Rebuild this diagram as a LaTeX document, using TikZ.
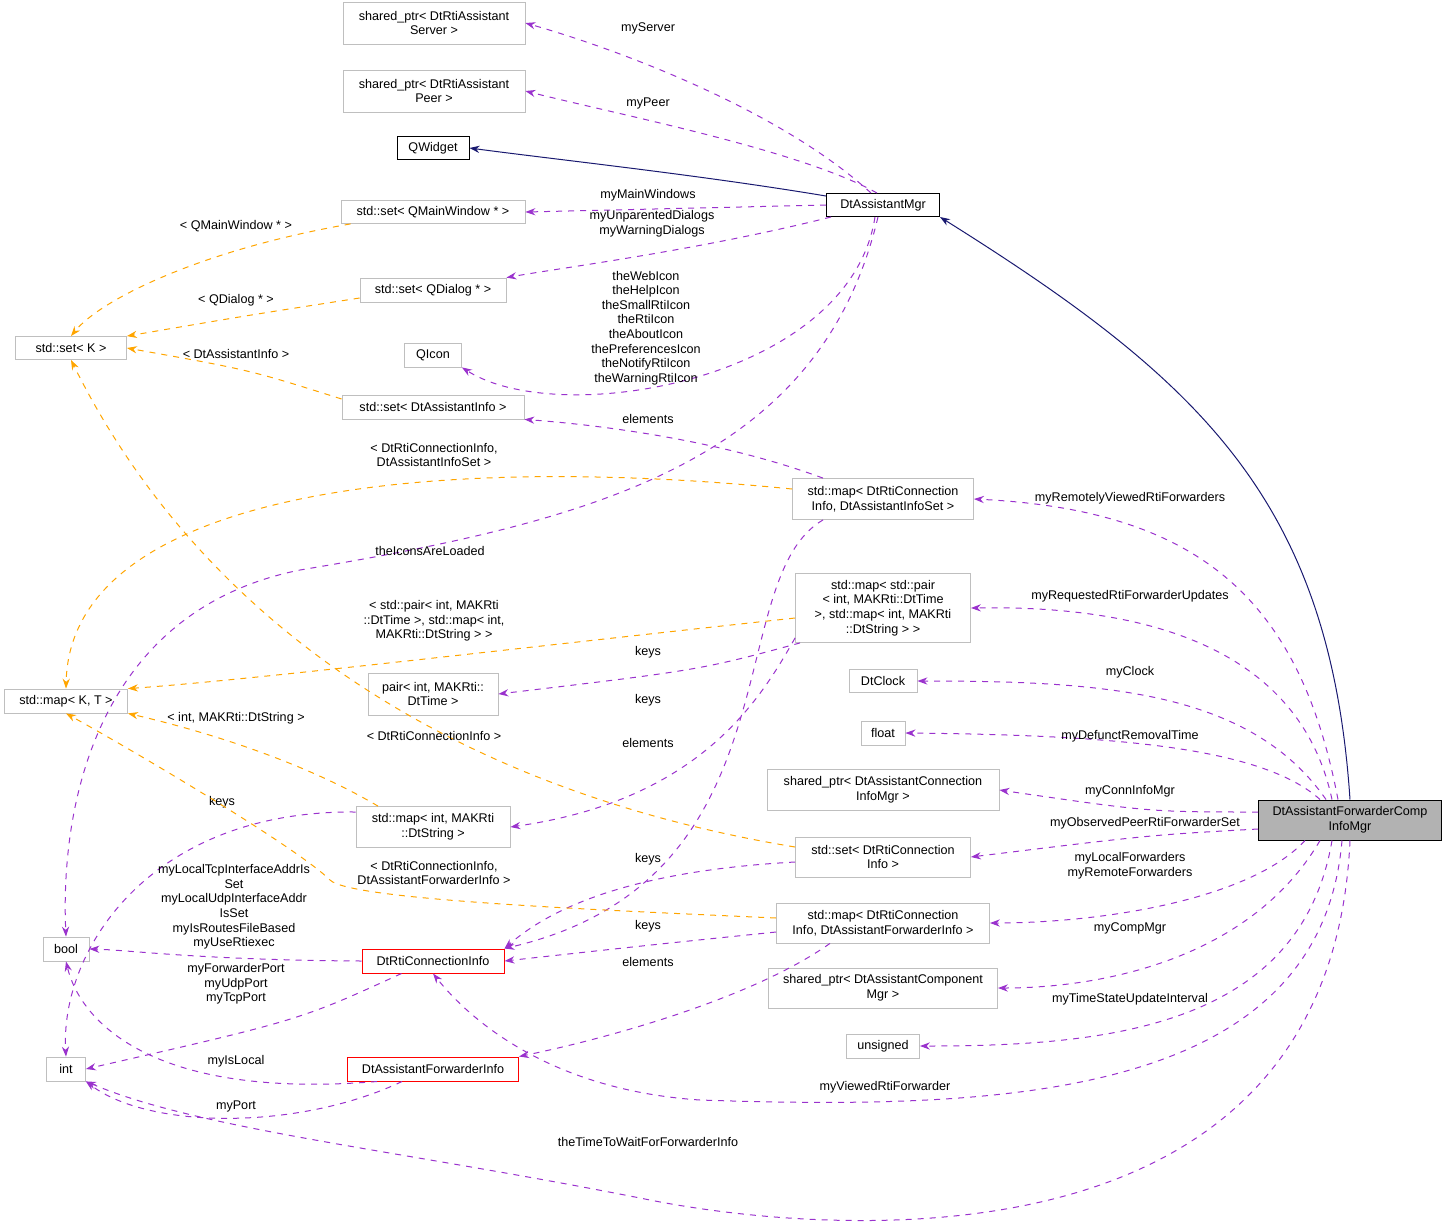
\documentclass[tikz,border=0pt]{standalone}
\usepackage{fontspec}
\setmainfont{Liberation Sans}
\usetikzlibrary{arrows.meta}
\definecolor{dpurple}{HTML}{9A32CD}
\definecolor{dorange}{HTML}{FFA500}
\definecolor{dnavy}{HTML}{191970}
\definecolor{dgray}{HTML}{BFBFBF}
\begin{document}
\begin{tikzpicture}[x=0.5pt,y=-0.5pt,
  every node/.style={font=\fontsize{6.3}{7.3}\selectfont, align=center, inner sep=0pt},
  box/.style={draw=dgray, line width=0.4pt, fill=white},
  bbox/.style={draw=black, line width=0.5pt, fill=white},
  rbox/.style={draw=red, line width=0.5pt, fill=white},
  dep/.style={dpurple, dashed, line width=0.5pt, -{Stealth[length=5pt,width=3.6pt]}},
  tpl/.style={dorange, dashed, line width=0.5pt, -{Stealth[length=5pt,width=3.6pt]}},
  inh/.style={dnavy, line width=0.5pt, -{Stealth[length=5pt,width=3.6pt]}},
  lbl/.style={}]
\useasboundingbox (0,0) rectangle (1448,1228);
\def\bx#1#2#3#4#5#6#7{\node[#1, minimum width=#5*0.5pt, minimum height=#6*0.5pt] (#2) at (#3,#4) {#7};}
\bx{box}{server}{434}{23}{182}{42}{shared\_ptr< DtRtiAssistant\\Server >}
\bx{box}{peer}{434}{91}{182}{42}{shared\_ptr< DtRtiAssistant\\Peer >}
\bx{bbox}{qw}{433}{148}{72}{23}{QWidget}
\bx{box}{setmw}{433}{212}{184}{23}{std::set< QMainWindow * >}
\bx{bbox}{mgr}{883}{205}{113}{23}{DtAssistantMgr}
\bx{box}{setqd}{433}{290}{146}{24}{std::set< QDialog * >}
\bx{box}{setk}{71}{348}{111}{23}{std::set< K >}
\bx{box}{qicon}{433}{355}{57}{24}{QIcon}
\bx{box}{setai}{433}{407}{182}{24}{std::set< DtAssistantInfo >}
\bx{box}{mapci}{883}{499}{181}{41}{std::map< DtRtiConnection\\Info, DtAssistantInfoSet >}
\bx{box}{mappair}{883}{608}{175}{69}{std::map< std::pair\\< int, MAKRti::DtTime\\ >, std::map< int, MAKRti\\::DtString > >}
\bx{box}{mapkt}{66}{701}{123}{24}{std::map< K, T >}
\bx{box}{pairint}{433}{694}{130}{42}{pair< int, MAKRti::\\DtTime >}
\bx{box}{clock}{883}{681}{68}{23}{DtClock}
\bx{box}{float}{883}{733}{44}{24}{float}
\bx{box}{sconn}{883}{790}{232}{41}{shared\_ptr< DtAssistantConnection\\InfoMgr >}
\bx{box}{mapis}{433}{827}{154}{41}{std::map< int, MAKRti\\::DtString >}
\node[draw=black, fill=black!30, line width=0.5pt, minimum width=91.5pt, minimum height=20pt] (main) at (1350,820) {DtAssistantForwarderComp\\InfoMgr};
\bx{box}{setci}{883}{857}{175}{40}{std::set< DtRtiConnection\\Info >}
\bx{box}{mapfi}{883}{923}{213}{40}{std::map< DtRtiConnection\\Info, DtAssistantForwarderInfo >}
\bx{box}{bool}{66}{949}{46}{24}{bool}
\bx{rbox}{rci}{433}{961}{142}{24}{DtRtiConnectionInfo}
\bx{box}{scomp}{883}{988}{229}{40}{shared\_ptr< DtAssistantComponent\\Mgr >}
\bx{box}{unsig}{883}{1046}{73}{24}{unsigned}
\bx{box}{int}{66}{1069}{39}{24}{int}
\bx{rbox}{fi}{433}{1069}{171}{24}{DtAssistantForwarderInfo}

% edges from DtAssistantMgr
\draw[dep] (mgr.north) ++(-12,0) .. controls (780,110) and (620,50) .. (server.east);
\draw[dep] (mgr.north) ++(-6,0) .. controls (800,150) and (620,115) .. (peer.east);
\draw[inh] (mgr.north west) ++(0,3) .. controls (700,175) and (560,160) .. (qw.east);
\draw[dep] (mgr.west) -- (setmw.east);
\draw[dep] (mgr.south west) ++(5,0) .. controls (700,250) and (560,268) .. (setqd.north east);
\draw[dep] (mgr.south) ++(-8,0) .. controls (850,380) and (560,430) .. (qicon.south east);
\draw[dep] (mgr.south) ++(-5,0) .. controls (820,460) and (600,520) .. (300,570) .. controls (100,610) and (60,800) .. (bool.north);
% orange to set<K>
\draw[tpl] (setmw.south west) ++(10,0) .. controls (200,250) and (100,300) .. (setk.north);
\draw[tpl] (setqd.west) ++(0,8) .. controls (250,315) .. (setk.north east);
\draw[tpl] (setai.west) ++(0,-8) .. controls (250,370) .. (setk.east);
\node at (236,226) {< QMainWindow * >};
\node at (236,300) {< QDialog * >};
\node at (236,354) {< DtAssistantInfo >};
\node at (648,28) {myServer};
\node at (648,103) {myPeer};
\node at (648,195) {myMainWindows};
\node at (652,224) {myUnparentedDialogs\\myWarningDialogs};
\node at (646,328) {theWebIcon\\theHelpIcon\\theSmallRtiIcon\\theRtiIcon\\theAboutIcon\\thePreferencesIcon\\theNotifyRtiIcon\\theWarningRtiIcon};
\node at (430,551) {theIconsAreLoaded};
% mapci
\draw[dep] (mapci.north) ++(-60,0) .. controls (720,440) and (600,425) .. (setai.south east);
\node at (648,419) {elements};
\draw[tpl] (mapci.west) ++(0,-10) .. controls (400,450) and (70,500) .. (mapkt.north);
\node at (434,455) {< DtRtiConnectionInfo,\\DtAssistantInfoSet >};
\draw[dep] (mapci.south) ++(-60,0) .. controls (720,580) and (800,880) .. (rci.north east);
\node at (648,700) {keys};
% main
\draw[inh] (main.north) .. controls (1330,500) and (1200,380) .. (mgr.south east);
\draw[dep] (main.north) ++(-12,0) .. controls (1300,600) and (1200,510) .. (mapci.east);
\node at (1130,498) {myRemotelyViewedRtiForwarders};
\draw[dep] (main.north) ++(-18,0) .. controls (1300,650) and (1150,605) .. (mappair.east);
\node at (1130,596) {myRequestedRtiForwarderUpdates};
\draw[dep] (main.north) ++(-24,0) .. controls (1250,690) and (1100,681) .. (clock.east);
\node at (1130,672) {myClock};
\draw[dep] (main.north) ++(-30,0) .. controls (1260,745) and (1100,735) .. (float.east);
\node at (1130,736) {myDefunctRemovalTime};
\draw[dep] (main.west) ++(0,-8) .. controls (1150,812) .. (sconn.east);
\node at (1130,791) {myConnInfoMgr};
\draw[dep] (main.west) ++(0,9) .. controls (1150,835) .. (setci.east);
\node at (1145,823) {myObservedPeerRtiForwarderSet};
\draw[dep] (main.south) ++(-45,0) .. controls (1250,900) and (1100,923) .. (mapfi.east);
\node at (1130,866) {myLocalForwarders\\myRemoteForwarders};
\draw[dep] (main.south) ++(-30,0) .. controls (1250,960) and (1100,988) .. (scomp.east);
\node at (1130,928) {myCompMgr};
\draw[dep] (main.south) ++(-18,0) .. controls (1300,1030) and (1100,1046) .. (unsig.east);
\node at (1130,999) {myTimeStateUpdateInterval};
\draw[dep] (main.south) ++(-8,0) .. controls (1320,1100) and (1000,1110) .. (700,1100) .. controls (550,1090) and (470,1020) .. (rci.south);
\node at (885,1087) {myViewedRtiForwarder};
\draw[dep] (main.south) .. controls (1330,1290) and (800,1230) .. (650,1200) .. controls (400,1150) and (200,1130) .. (int.south east);
\node at (648,1142) {theTimeToWaitForForwarderInfo};
% mappair
\draw[tpl] (mappair.west) ++(0,10) .. controls (500,650) and (250,680) .. (mapkt.north east);
\node at (434,621) {< std::pair< int, MAKRti\\::DtTime >, std::map< int,\\MAKRti::DtString > >};
\draw[dep] (mappair.south west) ++(5,0) .. controls (700,670) .. (pairint.east);
\node at (648,652) {keys};
\draw[dep] (mappair.south west) ++(0,-5) .. controls (760,700) and (700,800) .. (mapis.east);
\node at (648,743) {elements};
% mapis
\draw[tpl] (mapis.north) ++(-55,0) .. controls (300,760) and (200,730) .. (mapkt.south east);
\node at (236,718) {< int, MAKRti::DtString >};
\draw[dep] (mapis.west) ++(0,-15) .. controls (150,810) and (60,950) .. (int.north);
\node at (222,802) {keys};
% setci
\draw[tpl] (setci.west) ++(0,-10) .. controls (450,790) and (200,620) .. (setk.south);
\node at (434,736) {< DtRtiConnectionInfo >};
\draw[dep] (setci.west) ++(0,5) .. controls (650,870) and (560,900) .. (rci.north east);
\node at (648,859) {keys};
% mapfi
\draw[tpl] (mapfi.west) ++(0,-5) .. controls (600,910) and (350,900) .. (330,880) .. controls (300,850) and (150,760) .. (mapkt.south);
\node at (434,873) {< DtRtiConnectionInfo,\\DtAssistantForwarderInfo >};
\draw[dep] (mapfi.west) ++(0,9) .. controls (650,945) .. (rci.east);
\node at (648,926) {keys};
\draw[dep] (mapfi.south) ++(-53,0) .. controls (750,1000) and (600,1040) .. (fi.north east);
\node at (648,962) {elements};
% rci and fi
\draw[dep] (rci.west) .. controls (200,960) and (130,950) .. (bool.east);
\node at (234,907) {myLocalTcpInterfaceAddrIs\\Set\\myLocalUdpInterfaceAddr\\IsSet\\myIsRoutesFileBased\\myUseRtiexec};
\draw[dep] (rci.south west) ++(40,0) .. controls (300,1020) .. (int.east);
\node at (236,984) {myForwarderPort\\myUdpPort\\myTcpPort};
\draw[dep] (fi.south west) ++(30,0) .. controls (150,1100) and (80,1020) .. (bool.south);
\node at (236,1061) {myIsLocal};
\draw[dep] (fi.south west) ++(55,0) .. controls (300,1130) and (150,1130) .. (int.south east);
\node at (236,1106) {myPort};
\end{tikzpicture}
\end{document}
